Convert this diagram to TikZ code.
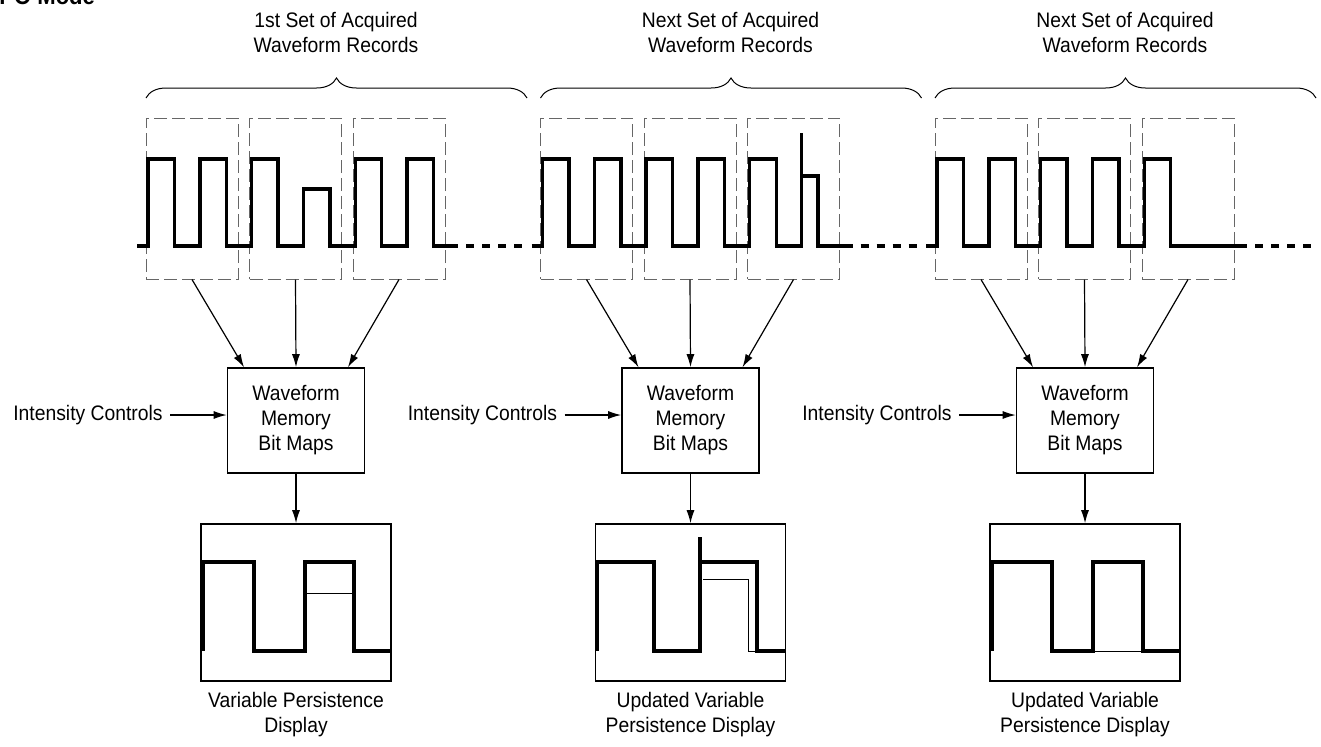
\documentclass[tikz,border=0pt]{standalone}
\usepackage{fontspec}
\setmainfont{Liberation Sans}[FakeStretch=0.92]
\usetikzlibrary{arrows.meta,decorations.pathreplacing}

\tikzset{
  recbox/.style={draw=black!60, dash pattern=on 6.5pt off 2.5pt, line width=0.5pt,
    minimum width=46pt, minimum height=80.5pt, inner sep=0pt},
  membox/.style={draw, line width=0.8pt, minimum width=68.5pt, minimum height=52.5pt,
    align=center, inner sep=0pt},
  dispbox/.style={draw, line width=0.8pt, minimum width=95pt, minimum height=78.5pt, inner sep=0pt},
  lbl/.style={align=center},
  wave/.style={line width=1.7pt},
  thinwave/.style={line width=0.5pt},
  dots/.style={line width=1.7pt, dash pattern=on 4pt off 4pt},
  setbrace/.style={decorate, decoration={brace, amplitude=10pt}, line width=0.5pt},
  arr/.style={-{Latex[length=6.5pt,width=4pt]}, line width=0.6pt},
}

\begin{document}
\begin{tikzpicture}[x=0.5pt, y=-0.5pt, font=\fontsize{10.5}{12.5}\selectfont]
  \useasboundingbox (0,0) rectangle (1321,746);

  % levels of acquired records and of the displays
  \def\yhi{159}
  \def\ylo{246}
  \def\ymid{189}
  \def\ytop{133}
  \def\yshelf{176}
  \def\dhi{562}
  \def\dlo{651}

  \node[anchor=base west, inner sep=0pt, font=\fontsize{12}{14}\selectfont\bfseries] (mode) at (-17,4.5) {DPO Mode};

  % ---- 1st set
  \begin{scope}[shift={(146,0)}]
    \node[lbl] (ttl1) at (190,32.5) {1st Set of Acquired\\Waveform Records};
    \draw[setbrace] (0,98) -- (381,98);
    % record windows
    \node[recbox] (rec1a) at (46,198.5) {};
    \node[recbox] (rec1b) at (149.5,198.5) {};
    \node[recbox] (rec1c) at (253,198.5) {};
    % acquired waveform (4th pulse is a runt)
    \draw[wave] (-9,\ylo) -| (2,\yhi) -| (28.5,\ylo) -| (53.8,\yhi) -| (80.3,\ylo)
      -| (105.6,\yhi) -| (132.1,\ylo) -| (157.4,\ymid) -| (183.9,\ylo)
      -| (209.2,\yhi) -| (235.7,\ylo) -| (261,\yhi) -| (287.5,\ylo) -- (312,\ylo);
    \draw[dots] (320,\ylo) -- (380,\ylo);
    % bit maps
    \node[membox] (mem1) at (150,420.5) {Waveform\\Memory\\Bit Maps};
    \node[lbl, anchor=east, inner xsep=3.5pt, inner ysep=0pt] (int1) at (24,415) {Intensity Controls};
    \draw[arr] (rec1a.south) -- ([xshift=-26pt]mem1.north);
    \draw[arr] (rec1b.south) -- (mem1.north);
    \draw[arr] (rec1c.south) -- ([xshift=26pt]mem1.north);
    \draw[arr] (int1.east) -- (int1.east -| mem1.west);
    % display
    \node[dispbox] (disp1) at (150,602.5) {};
    \draw[arr] (mem1.south) -- (disp1.north);
    \draw[wave] (57,\dlo) -- (57,\dhi) -| (108,\dlo) -| (159,\dhi) -| (208,\dlo) -- (244,\dlo);
    \draw[thinwave] (159,593) -- (208,593);
    \node[lbl] (cap1) at (150,715) {Variable Persistence\\Display};
  \end{scope}

  % ---- next set
  \begin{scope}[shift={(540.5,0)}]
    \node[lbl] (ttl2) at (190,32.5) {Next Set of Acquired\\Waveform Records};
    \draw[setbrace] (0,98) -- (381,98);
    % record windows
    \node[recbox] (rec2a) at (46,198.5) {};
    \node[recbox] (rec2b) at (149.5,198.5) {};
    \node[recbox] (rec2c) at (253,198.5) {};
    % acquired waveform (glitch on last pulse)
    \draw[wave] (-9,\ylo) -| (2,\yhi) -| (28.5,\ylo) -| (53.8,\yhi) -| (80.3,\ylo)
      -| (105.6,\yhi) -| (132.1,\ylo) -| (157.4,\yhi) -| (183.9,\ylo)
      -| (209.2,\yhi) -| (235.7,\ylo) -| (261,\ytop) -- (261,\yshelf) -| (277.5,\ylo) -- (312,\ylo);
    \draw[dots] (320,\ylo) -- (380,\ylo);
    % bit maps
    \node[membox] (mem2) at (150,420.5) {Waveform\\Memory\\Bit Maps};
    \node[lbl, anchor=east, inner xsep=3.5pt, inner ysep=0pt] (int2) at (24,415) {Intensity Controls};
    \draw[arr] (rec2a.south) -- ([xshift=-26pt]mem2.north);
    \draw[arr] (rec2b.south) -- (mem2.north);
    \draw[arr] (rec2c.south) -- ([xshift=26pt]mem2.north);
    \draw[arr] (int2.east) -- (int2.east -| mem2.west);
    % display
    \node[dispbox] (disp2) at (150,602.5) {};
    \draw[arr] (mem2.south) -- (disp2.north);
    \draw[wave] (56.5,\dlo) -- (56.5,\dhi) -| (113.5,\dlo) -| (159.5,537) -- (159.5,\dhi)
      -| (216.5,\dlo) -- (244,\dlo);
    \draw[thinwave] (162.5,579) -| (207.5,\dlo) -- (216.5,\dlo);
    \node[lbl] (cap2) at (150,715) {Updated Variable\\Persistence Display};
  \end{scope}

  % ---- next set
  \begin{scope}[shift={(935,0)}]
    \node[lbl] (ttl3) at (190,32.5) {Next Set of Acquired\\Waveform Records};
    \draw[setbrace] (0,98) -- (381,98);
    % record windows
    \node[recbox] (rec3a) at (46,198.5) {};
    \node[recbox] (rec3b) at (149.5,198.5) {};
    \node[recbox] (rec3c) at (253,198.5) {};
    % acquired waveform (last pulse missing)
    \draw[wave] (-9,\ylo) -| (2,\yhi) -| (28.5,\ylo) -| (53.8,\yhi) -| (80.3,\ylo)
      -| (105.6,\yhi) -| (132.1,\ylo) -| (157.4,\yhi) -| (183.9,\ylo)
      -| (209.2,\yhi) -| (235.7,\ylo) -- (312,\ylo);
    \draw[dots] (320,\ylo) -- (380,\ylo);
    % bit maps
    \node[membox] (mem3) at (150,420.5) {Waveform\\Memory\\Bit Maps};
    \node[lbl, anchor=east, inner xsep=3.5pt, inner ysep=0pt] (int3) at (24,415) {Intensity Controls};
    \draw[arr] (rec3a.south) -- ([xshift=-26pt]mem3.north);
    \draw[arr] (rec3b.south) -- (mem3.north);
    \draw[arr] (rec3c.south) -- ([xshift=26pt]mem3.north);
    \draw[arr] (int3.east) -- (int3.east -| mem3.west);
    % display
    \node[dispbox] (disp3) at (150,602.5) {};
    \draw[arr] (mem3.south) -- (disp3.north);
    \draw[wave] (57,\dlo) -- (57,\dhi) -| (117,\dlo) -| (158,\dhi) -| (208,\dlo) -- (244,\dlo);
    \draw[thinwave] (158,\dlo) -- (208,\dlo);
    \node[lbl] (cap3) at (150,715) {Updated Variable\\Persistence Display};
  \end{scope}
\end{tikzpicture}
\end{document}
